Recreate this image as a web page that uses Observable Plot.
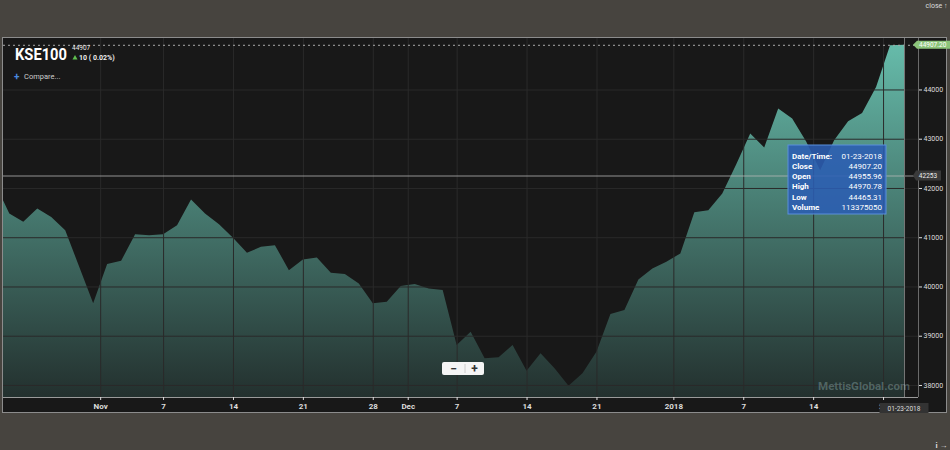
<!DOCTYPE html>
<html><head><meta charset="utf-8">
<script src="https://cdn.jsdelivr.net/npm/d3@7"></script>
<script src="https://cdn.jsdelivr.net/npm/@observablehq/plot@0.6"></script>
<style>
html,body{margin:0;padding:0;background:#47443f;overflow:hidden;}
#chart{width:950px;height:450px;}
</style>
</head><body><div id="chart"></div>
<script>
// ---- data ----
const tradingDates = [
 "2017-10-20","2017-10-23","2017-10-24","2017-10-25","2017-10-26","2017-10-27","2017-10-30","2017-10-31",
 "2017-11-01","2017-11-02","2017-11-03","2017-11-06","2017-11-07","2017-11-08","2017-11-09","2017-11-10",
 "2017-11-13","2017-11-14","2017-11-15","2017-11-16","2017-11-17","2017-11-20","2017-11-21","2017-11-22",
 "2017-11-23","2017-11-24","2017-11-27","2017-11-28","2017-11-29","2017-11-30","2017-12-04","2017-12-05",
 "2017-12-06","2017-12-07","2017-12-08","2017-12-11","2017-12-12","2017-12-13","2017-12-14","2017-12-15",
 "2017-12-18","2017-12-19","2017-12-20","2017-12-21","2017-12-22","2017-12-26","2017-12-27","2017-12-28",
 "2017-12-29","2018-01-01","2018-01-02","2018-01-03","2018-01-04","2018-01-05","2018-01-08","2018-01-09",
 "2018-01-10","2018-01-11","2018-01-12","2018-01-15","2018-01-16","2018-01-17","2018-01-18","2018-01-19",
 "2018-01-22","2018-01-23"
];
const closes = [
 42080, 41482, 41312, 41583, 41413, 41143, 40400, 39657,
 40454, 40521, 41062, 41042, 41062, 41245, 41766, 41482,
 41265, 40990, 40683, 40805, 40839, 40332, 40549, 40590,
 40278, 40251, 40062, 39657, 39689, 40008, 40048, 39961,
 39927, 38811, 39081, 38541, 38562, 38811, 38290, 38643,
 38339, 37986, 38237, 38675, 39440, 39521, 40144, 40367,
 40501, 40671, 41508, 41549, 41886, 42482, 43104, 42820,
 43612, 43409, 42942, 42360, 42970, 43354, 43523, 44050,
 44897, 44907.20
];
const tickDates  = ["2017-11-01","2017-11-07","2017-11-14","2017-11-21","2017-11-28","2017-12-01","2017-12-07","2017-12-14","2017-12-21","2018-01-01","2018-01-07","2018-01-14","2018-01-21"];
const tickLabels = ["Nov","7","14","21","28","Dec","7","14","21","2018","7","14","21"];
const yTicks = [38000, 39000, 40000, 41000, 42000, 43000, 44000];
const symbol = "KSE100";
const quoteLabels = ["Date/Time:", "Close", "Open", "High", "Low", "Volume"];
const quoteValues = ["01-23-2018", "44907.20", "44955.96", "44970.78", "44465.31", "113375050"];
const lastPrice = "44907";
const changeText = "10 ( 0.02%)";
const crosshairValue = 42253;
const watermark = "MettisGlobal.com";

// ---- derived ----
const data = closes.map((c, k) => ({i: k - 1, date: tradingDates[k], close: c}));
function tickPos(ds) {
  const k = tradingDates.findIndex(t => t >= ds);
  const i = k - 1;
  const exact = tradingDates[k] === ds;
  const monthStart = ds.endsWith("-01");
  return (exact && !monthStart) ? i : i - 0.5;
}
const tickIdx = tickDates.map(tickPos);
const labelMap = new Map(tickIdx.map((v, j) => [v, tickLabels[j]]));
const yMin = 37756, yMax = 45045;
const xMax = 65.0;
const lastI = data[data.length - 1].i;
const lastClose = closes[closes.length - 1];

const plot = Plot.plot({
  width: 950, height: 450,
  marginLeft: 3, marginRight: 32, marginTop: 38, marginBottom: 53,
  x: {domain: [-0.45, xMax], axis: null},
  y: {domain: [yMin, yMax], axis: null},
  style: {background: "transparent", fontFamily: "Roboto, sans-serif", color: "#ddd", overflow: "visible"},
  marks: [
    Plot.frame({fill: "#181818"}),
    Plot.areaY(data, {x: "i", y1: yMin, y2: "close", fill: "url(#kseGrad)", clip: true}),
    Plot.gridY(yTicks, {stroke: "#2a2a2a", strokeOpacity: 1}),
    Plot.gridX(tickIdx, {stroke: "#2a2a2a", strokeOpacity: 1}),
    Plot.ruleY([lastClose], {stroke: "#aaa", strokeDasharray: "2,3"}),
    Plot.ruleY([crosshairValue], {stroke: "#bbb", strokeOpacity: 0.75}),
    Plot.ruleX([lastI], {stroke: "#777"}),
    Plot.ruleY([yMin], {stroke: "#9a9a9a"}),
    Plot.ruleX([xMax], {stroke: "#6a6a6a"}),
    Plot.axisX(tickIdx, {tickFormat: d => labelMap.get(d), tickSize: 3, tickPadding: 3, fontSize: 8, fontWeight: "bold", color: "#ddd"}),
    Plot.axisY(yTicks, {anchor: "right", tickSize: 3, tickPadding: 2, fontSize: 7, color: "#ddd", tickFormat: d => String(d)})
  ]
});

const svg = d3.select(plot);
const xs = plot.scale("x"), ys = plot.scale("y");
// gradient
const defs = svg.insert("defs", ":first-child");
const g = defs.append("linearGradient").attr("id", "kseGrad").attr("x1", 0).attr("y1", 0).attr("x2", 0).attr("y2", 1);
g.append("stop").attr("offset", 0).attr("stop-color", "#66bbaa");
g.append("stop").attr("offset", 1).attr("stop-color", "#23302e");
// panel
svg.insert("rect", "defs + *").attr("x", 2.5).attr("y", 37.5).attr("width", 944).attr("height", 375)
  .attr("fill", "#181818").attr("stroke", "#8c8c8c");

const ov = svg.append("g").attr("font-family", "Roboto, sans-serif").attr("text-anchor", "start");
// title block
ov.append("text").attr("x", 15).attr("y", 60).attr("fill", "#fff").attr("font-size", 16).attr("font-weight", "bold")
  .attr("textLength", 52).attr("lengthAdjust", "spacingAndGlyphs").text(symbol);
ov.append("text").attr("x", 72).attr("y", 50).attr("fill", "#eee").attr("font-size", 6.5).text(lastPrice);
ov.append("path").attr("d", "M72.5,59.5 L75,55 L77.5,59.5 Z").attr("fill", "#5fbf4f");
ov.append("text").attr("x", 79).attr("y", 59.5).attr("fill", "#eee").attr("font-size", 7).attr("font-weight", "bold").text(changeText);
ov.append("text").attr("x", 14).attr("y", 80).attr("fill", "#4a8ae0").attr("font-size", 10).attr("font-weight", "bold").text("+");
ov.append("text").attr("x", 24).attr("y", 79).attr("fill", "#ccc").attr("font-size", 7.5).text("Compare...");

// watermark
ov.append("text").attr("x", 864).attr("y", 390).attr("text-anchor", "middle").attr("fill", "rgba(175,210,210,0.32)")
  .attr("font-size", 11.5).attr("font-weight", "bold").text(watermark);

// zoom buttons
ov.append("rect").attr("x", 442).attr("y", 362).attr("width", 42).attr("height", 13).attr("rx", 2).attr("fill", "#f5f5f5");
ov.append("line").attr("x1", 465).attr("x2", 465).attr("y1", 364).attr("y2", 373).attr("stroke", "#ccc");
ov.append("text").attr("x", 453.5).attr("y", 372.5).attr("text-anchor", "middle").attr("fill", "#333").attr("font-size", 12).attr("font-weight", "bold").text("\u2212");
ov.append("text").attr("x", 474.5).attr("y", 372.5).attr("text-anchor", "middle").attr("fill", "#333").attr("font-size", 12).attr("font-weight", "bold").text("+");

// tooltip
const tx = 788, ty = 145;
ov.append("rect").attr("x", tx).attr("y", ty).attr("width", 98).attr("height", 69)
  .attr("fill", "#2b5db3").attr("fill-opacity", 0.88).attr("stroke", "#5b8fdc");
quoteLabels.forEach((l, j) => {
  const yy = ty + 13.5 + j * 10.3;
  ov.append("text").attr("x", tx + 4).attr("y", yy).attr("text-anchor", "start").attr("fill", "#fff").attr("font-size", 8).attr("font-weight", "bold").text(l);
  ov.append("text").attr("x", tx + 94).attr("y", yy).attr("text-anchor", "end").attr("fill", "#fff").attr("font-size", 8).text(quoteValues[j]);
});

// last price flag
const fy = ys.apply(lastClose);
ov.append("path").attr("d", `M913,${fy} L917,${fy-4} L950,${fy-4} L950,${fy+4} L917,${fy+4} Z`).attr("fill", "#8cc47a");
ov.append("text").attr("x", 919).attr("y", fy + 2.3).attr("fill", "#fff").attr("font-size", 6.5).text(lastClose.toFixed(2));

// crosshair y label
const cy = ys.apply(crosshairValue);
ov.append("path").attr("d", `M913,${cy} L916,${cy-5} L941,${cy-5} L941,${cy+5} L916,${cy+5} Z`).attr("fill", "#3a3a3a");
ov.append("text").attr("x", 928).attr("y", cy + 2.3).attr("text-anchor", "middle").attr("fill", "#eee").attr("font-size", 6.5).text(String(crosshairValue));

// crosshair x label
const cx = xs.apply(lastI);
ov.append("rect").attr("x", cx - 24.5).attr("y", 403).attr("width", 49).attr("height", 10).attr("fill", "#333");
ov.append("text").attr("x", cx).attr("y", 410.5).attr("text-anchor", "middle").attr("fill", "#ddd").attr("font-size", 6.5).text(quoteValues[0]);

document.getElementById("chart").appendChild(plot);
</script>
</body></html>
